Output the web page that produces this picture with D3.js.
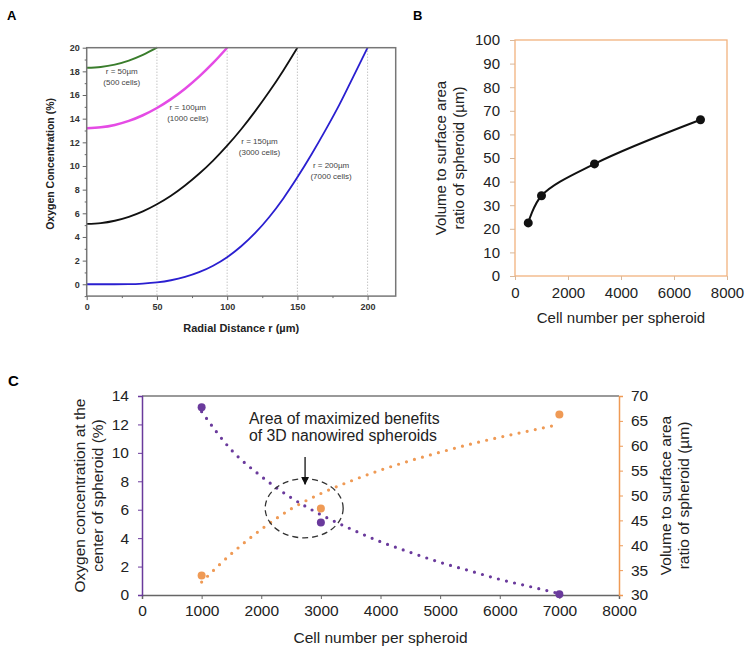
<!DOCTYPE html>
<html><head><meta charset="utf-8">
<script src="https://cdn.jsdelivr.net/npm/d3@7"></script>
<style>body{margin:0;background:#fff}svg{display:block}text{font-family:"Liberation Sans",Arial,sans-serif}</style>
</head><body>
<svg id="c" width="750" height="652"></svg>
<script>
// ---------- Panel A data ----------
const rGreen = [0,10,20,30,40,50];
const oxGreen = [18.3,18.37,18.57,18.91,19.39,20.0];
const rMagenta = [0,10,20,30,40,50,60,70,80,90,100];
const oxMagenta = [13.2,13.27,13.47,13.81,14.29,14.9,15.65,16.53,17.55,18.71,20.0];
const rBlack = [0,10,20,30,40,50,60,70,80,90,100,110,120,130,140,150];
const oxBlack = [5.1,5.17,5.37,5.7,6.16,6.76,7.48,8.35,9.34,10.46,11.72,13.11,14.64,16.29,18.08,20.0];
const rBlue = [0,10,20,30,40,50,60,70,80,90,100,110,120,130,140,150,160,170,180,190,200];
const oxBlue = [0,0,0,0.01,0.06,0.16,0.34,0.62,1.02,1.57,2.29,3.21,4.34,5.69,7.26,9.04,10.97,13.03,15.21,17.6,20.0];
const curveLabels = ["r = 50µm","r = 100µm","r = 150µm","r = 200µm"];
const curveLabels2 = ["(500 cells)","(1000 cells)","(3000 cells)","(7000 cells)"];
const labelR = [25,72,123,174];
const labelOx = [17.8,14.7,11.9,9.8];
const aXTicks = [0,50,100,150,200];
const aYTicks = [0,2,4,6,8,10,12,14,16,18,20];
const gridR = [50,100,150,200];

// ---------- Panel B data ----------
const cellsB = [500,1000,3000,7000];
const vsaB = [22.5,34,47.5,66.2];
const bXTicks = [0,2000,4000,6000,8000];
const bYTicks = [0,10,20,30,40,50,60,70,80,90,100];

// ---------- Panel C data ----------
const cellsC = [1000,3000,7000];
const oxC = [13.2,5.1,0.05];
const vsaC = [33.9,47.4,66.3];
const trendCells = [1000,1500,2000,2500,3000,3500,4000,4500,5000,5500,6000,6500,7000];
const trendOx = [12.9,10.2,8.35,6.85,5.65,4.65,3.75,3.0,2.3,1.7,1.1,0.6,0.1];
const trendVsa = [32.6,38.3,43.2,47.3,50.4,52.9,55.1,57.0,58.7,60.3,61.7,63.0,64.3];
const cXTicks = [0,1000,2000,3000,4000,5000,6000,7000,8000];
const cYLTicks = [0,2,4,6,8,10,12,14];
const cYRTicks = [30,35,40,45,50,55,60,65,70];

const svg = d3.select("#c");
const fmt = d3.format("d");

// ================= Panel A =================
{
  const x = d3.scaleLinear([0,220],[86.7,395.7]);
  const y = d3.scaleLinear([-1,20],[296.1,47.7]);
  const g = svg.append("g");
  g.append("text").attr("x",7).attr("y",20).text("A").attr("font-size",13).attr("font-weight","bold");
  g.selectAll(".grid").data(gridR).join("line")
    .attr("x1",d=>x(d)).attr("x2",d=>x(d)).attr("y1",y(20)).attr("y2",y(-1))
    .attr("stroke","#aaa").attr("stroke-width",1).attr("stroke-dasharray","1,2");
  const line = d3.line().x(d=>x(d[0])).y(d=>y(d[1])).curve(d3.curveMonotoneX);
  const series = [
    [rGreen,oxGreen,"#3a7d2c",2],
    [rMagenta,oxMagenta,"#e54be5",2.5],
    [rBlack,oxBlack,"#111",1.8],
    [rBlue,oxBlue,"#2a1fd0",1.8]
  ];
  series.forEach(s=>{
    g.append("path").attr("d",line(d3.zip(s[0],s[1]))).attr("fill","none")
      .attr("stroke",s[2]).attr("stroke-width",s[3]);
  });
  g.append("rect").attr("x",x(0)).attr("y",y(20)).attr("width",x(220)-x(0)).attr("height",y(-1)-y(20))
    .attr("fill","none").attr("stroke","#777").attr("stroke-width",1.5);
  const ax = g.append("g").attr("transform",`translate(0,${y(-1)})`)
    .call(d3.axisBottom(x).tickValues(aXTicks).tickSize(4).tickPadding(4).tickFormat(fmt));
  ax.append("g").call(d3.axisBottom(x).tickValues([25,75,125,175]).tickSize(2).tickFormat(""));
  const ay = g.append("g").attr("transform",`translate(${x(0)},0)`)
    .call(d3.axisLeft(y).tickValues(aYTicks).tickSize(4).tickPadding(3).tickFormat(fmt));
  ay.append("g").call(d3.axisLeft(y).tickValues(d3.range(-1,20,2)).tickSize(2).tickFormat(""));
  [ax,ay].forEach(a=>{
    a.selectAll(".domain").remove();
    a.selectAll("line").attr("stroke","#666");
    a.selectAll("text").attr("font-size",9).attr("font-weight","bold").attr("fill","#333")
      .attr("font-family","Liberation Sans, Arial, sans-serif");
  });
  curveLabels.forEach((t,i)=>{
    g.append("text").attr("x",x(labelR[i])).attr("y",y(labelOx[i])).attr("text-anchor","middle")
      .attr("font-size",8).attr("fill","#444").text(t);
    g.append("text").attr("x",x(labelR[i])).attr("y",y(labelOx[i])+11).attr("text-anchor","middle")
      .attr("font-size",8).attr("fill","#444").text(curveLabels2[i]);
  });
  g.append("text").attr("x",(x(0)+x(220))/2).attr("y",332).attr("text-anchor","middle")
    .attr("font-size",11).attr("font-weight","bold").attr("fill","#222").text("Radial Distance r (µm)");
  g.append("text").attr("transform",`translate(54,${(y(20)+y(-1))/2 - 8}) rotate(-90)`).attr("text-anchor","middle")
    .attr("font-size",10.5).attr("font-weight","bold").attr("fill","#222").text("Oxygen Concentration (%)");
}

// ================= Panel B =================
{
  const x = d3.scaleLinear([0,8000],[515,727]);
  const y = d3.scaleLinear([0,100],[276,40]);
  const g = svg.append("g");
  g.append("text").attr("x",413).attr("y",20).text("B").attr("font-size",13).attr("font-weight","bold");
  g.append("rect").attr("x",x(0)).attr("y",y(100)).attr("width",x(8000)-x(0)).attr("height",y(0)-y(100))
    .attr("fill","none").attr("stroke","#f2b27e").attr("stroke-width",1.3);
  const ax = g.append("g").attr("transform",`translate(0,${y(0)})`)
    .call(d3.axisBottom(x).tickValues(bXTicks).tickSize(4).tickPadding(7).tickFormat(fmt));
  const ay = g.append("g").attr("transform",`translate(${x(0)},0)`)
    .call(d3.axisLeft(y).tickValues(bYTicks).tickSize(5).tickPadding(10).tickFormat(fmt));
  [ax,ay].forEach(a=>{
    a.selectAll(".domain").remove();
    a.selectAll("line").attr("stroke","#d9b89a");
    a.selectAll("text").attr("font-size",15).attr("fill","#222")
      .attr("font-family","Liberation Sans, Arial, sans-serif");
  });
  const line = d3.line().x(d=>x(d[0])).y(d=>y(d[1])).curve(d3.curveCatmullRom.alpha(0.5));
  const pts = d3.zip(cellsB,vsaB);
  g.append("path").attr("d",line(pts)).attr("fill","none").attr("stroke","#111").attr("stroke-width",2);
  g.selectAll(".pt").data(pts).join("circle").attr("cx",d=>x(d[0])).attr("cy",d=>y(d[1])).attr("r",4.5).attr("fill","#111");
  g.append("text").attr("x",(x(0)+x(8000))/2).attr("y",323).attr("text-anchor","middle")
    .attr("font-size",15).attr("fill","#222").text("Cell number per spheroid");
  const ylab = g.append("text").attr("transform",`translate(446,${(y(0)+y(100))/2}) rotate(-90)`).attr("text-anchor","middle")
    .attr("font-size",15).attr("fill","#222");
  ylab.append("tspan").attr("x",0).attr("dy",0).text("Volume to surface area");
  ylab.append("tspan").attr("x",0).attr("dy",18).text("ratio of spheroid (µm)");
}

// ================= Panel C =================
{
  const x = d3.scaleLinear([0,8000],[142,619]);
  const yL = d3.scaleLinear([0,14],[595,396]);
  const yR = d3.scaleLinear([30,70],[595,396]);
  const purple = "#6a3a9c", orange = "#ef9a55";
  const g = svg.append("g");
  g.append("text").attr("x",8).attr("y",386).text("C").attr("font-size",15).attr("font-weight","bold");
  g.append("line").attr("x1",x(0)).attr("x2",x(8000)).attr("y1",yL(14)).attr("y2",yL(14)).attr("stroke","#777").attr("stroke-width",1.5);
  const ax = g.append("g").attr("transform",`translate(0,${yL(0)})`)
    .call(d3.axisBottom(x).tickValues(cXTicks).tickSize(4).tickPadding(6).tickFormat(fmt));
  ax.select(".domain").attr("stroke","#666").attr("stroke-width",1.5);
  ax.selectAll("line").attr("stroke","#666");
  const ayl = g.append("g").attr("transform",`translate(${x(0)},0)`)
    .call(d3.axisLeft(yL).tickValues(cYLTicks).tickSize(4).tickPadding(9).tickFormat(fmt));
  ayl.select(".domain").attr("stroke",purple).attr("stroke-width",1.5);
  ayl.selectAll("line").attr("stroke",purple);
  const ayr = g.append("g").attr("transform",`translate(${x(8000)},0)`)
    .call(d3.axisRight(yR).tickValues(cYRTicks).tickSize(4).tickPadding(8).tickFormat(fmt));
  ayr.select(".domain").attr("stroke",orange).attr("stroke-width",1.5);
  ayr.selectAll("line").attr("stroke",orange);
  [ax,ayl,ayr].forEach(a=>{
    a.selectAll("text").attr("font-size",15.5).attr("fill","#222")
      .attr("font-family","Liberation Sans, Arial, sans-serif");
  });
  const lineL = d3.line().x(d=>x(d[0])).y(d=>yL(d[1])).curve(d3.curveMonotoneX);
  const lineR = d3.line().x(d=>x(d[0])).y(d=>yR(d[1])).curve(d3.curveMonotoneX);
  g.append("path").attr("d",lineR(d3.zip(trendCells,trendVsa))).attr("fill","none").attr("stroke",orange)
    .attr("stroke-width",3.2).attr("stroke-linecap","round").attr("stroke-dasharray","0,8.3");
  g.append("path").attr("d",lineL(d3.zip(trendCells,trendOx))).attr("fill","none").attr("stroke",purple)
    .attr("stroke-width",3.2).attr("stroke-linecap","round").attr("stroke-dasharray","0,8.3");
  g.selectAll(".po").data(d3.zip(cellsC,vsaC)).join("circle").attr("cx",d=>x(d[0])).attr("cy",d=>yR(d[1])).attr("r",4).attr("fill",orange);
  g.selectAll(".pp").data(d3.zip(cellsC,oxC)).join("circle").attr("cx",d=>x(d[0])).attr("cy",d=>yL(d[1])).attr("r",4).attr("fill",purple);
  const ecx = 2720, ecy = 6.1, erx = 654, ery = 2.08;
  g.append("ellipse").attr("cx",x(ecx)).attr("cy",yL(ecy)).attr("rx",x(ecx+erx)-x(ecx)).attr("ry",yL(ecy-ery)-yL(ecy))
    .attr("fill","none").attr("stroke","#333").attr("stroke-width",1.3).attr("stroke-dasharray","6,4");
  const ann = g.append("text").attr("x",x(1795)).attr("y",424).attr("font-size",15.8).attr("fill","#222");
  ann.append("tspan").attr("x",x(1795)).text("Area of maximized benefits");
  ann.append("tspan").attr("x",x(1795)).attr("dy",17).text("of 3D nanowired spheroids");
  g.append("defs").append("marker").attr("id","ah").attr("viewBox","0 0 10 10").attr("refX",9).attr("refY",5)
    .attr("markerWidth",6).attr("markerHeight",6).attr("orient","auto")
    .append("path").attr("d","M0,0L10,5L0,10z").attr("fill","#111");
  g.append("line").attr("x1",x(2735)).attr("x2",x(2735)).attr("y1",yL(9.7)).attr("y2",yL(7.8))
    .attr("stroke","#111").attr("stroke-width",1.3).attr("marker-end","url(#ah)");
  g.append("text").attr("x",(x(0)+x(8000))/2).attr("y",643).attr("text-anchor","middle")
    .attr("font-size",15.5).attr("fill","#222").text("Cell number per spheroid");
  const yl = g.append("text").attr("transform",`translate(85,${(yL(0)+yL(14))/2}) rotate(-90)`).attr("text-anchor","middle")
    .attr("font-size",15.5).attr("fill","#222");
  yl.append("tspan").attr("x",0).text("Oxygen concentration at the");
  yl.append("tspan").attr("x",0).attr("dy",18).text("center of spheroid (%)");
  const yr = g.append("text").attr("transform",`translate(671,${(yL(0)+yL(14))/2}) rotate(-90)`).attr("text-anchor","middle")
    .attr("font-size",15.5).attr("fill","#222");
  yr.append("tspan").attr("x",0).text("Volume to surface area");
  yr.append("tspan").attr("x",0).attr("dy",18).text("ratio of spheroid (µm)");
}
</script>
</body></html>
